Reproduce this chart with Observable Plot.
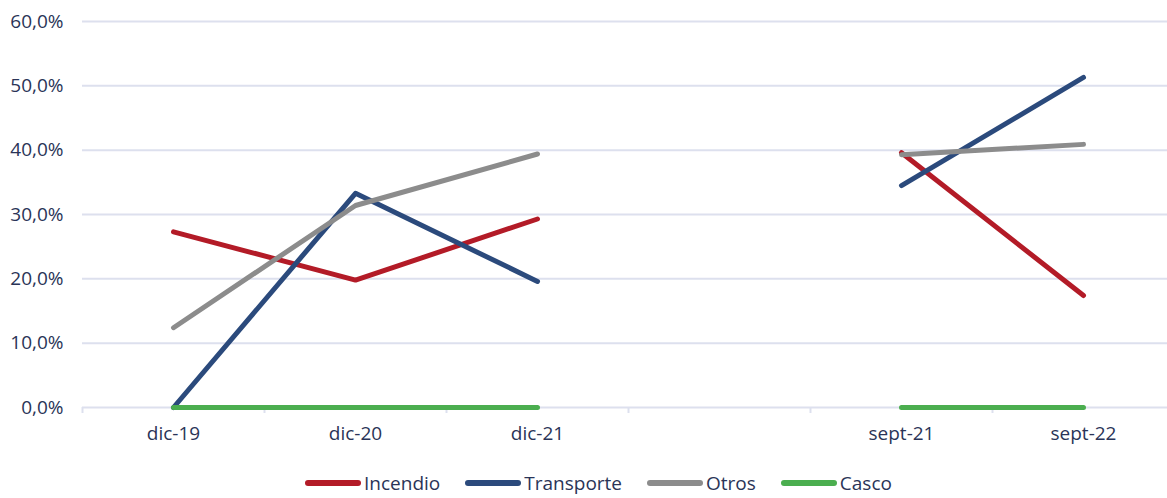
<!DOCTYPE html>
<html>
<head>
<meta charset="utf-8">
<script src="https://cdn.jsdelivr.net/npm/d3@7"></script>
<script src="https://cdn.jsdelivr.net/npm/@observablehq/plot@0.6"></script>
<style>
  html, body { margin: 0; padding: 0; background: #fff; }
  body { width: 1167px; height: 498px; overflow: hidden; font-family: "Open Sans", sans-serif; }
  #chart svg { display: block; }
  #legend { display: flex; justify-content: center; align-items: center; gap: 25px; height: 30px; margin-top: 18px; font-size: 19px; color: #2A3457; padding-left: 30px; box-sizing: border-box; }
  .item { display: flex; align-items: center; }
  .sw { width: 56px; height: 6px; border-radius: 3px; margin-right: 3px; }
</style>
</head>
<body>
<div id="chart"></div>
<div id="legend"></div>
<script>
const categories = ["dic-19", "dic-20", "dic-21", "", "sept-21", "sept-22"];
const seriesNames = ["Incendio", "Transporte", "Otros", "Casco"];
const incendio   = [27.3, 19.8, 29.3, null, 39.6, 17.4];
const transporte = [0.0, 33.3, 19.6, null, 34.5, 51.3];
const otros      = [12.4, 31.4, 39.4, null, 39.3, 40.9];
const casco      = [0.0, 0.0, 0.0, null, 0.0, 0.0];
const colors = ["#B31B27", "#2B4A7C", "#8C8C8C", "#4BAE4F"];
const yTicks = [0, 10, 20, 30, 40, 50, 60];

const seriesValues = [incendio, transporte, otros, casco];
const rows = [];
seriesNames.forEach((name, s) => {
  seriesValues[s].forEach((v, i) => rows.push({series: name, i, value: v}));
});
const idx = categories.map((c, i) => i);
const bounds = categories.map((c, i) => i - 0.5);

const chart = Plot.plot({
  width: 1167,
  height: 450,
  marginTop: 21,
  marginBottom: 43,
  marginLeft: 82,
  marginRight: 0,
  style: {fontFamily: "'Open Sans', sans-serif", fontSize: "19px", color: "#2A3457"},
  x: {domain: [-0.5, categories.length - 0.5], range: [82, 1174], label: null},
  y: {domain: [0, 60], label: null},
  color: {domain: seriesNames, range: colors},
  marks: [
    Plot.ruleY(yTicks, {stroke: "#DDE0EE", strokeWidth: 2}),
    Plot.axisY({ticks: yTicks, tickSize: 0, tickPadding: 19, label: null, tickFormat: d => d.toFixed(1).replace(".", ",") + "%", fill: "#2A3457", fontSize: 19}),
    Plot.axisX({ticks: bounds, tickSize: 6, label: null, tickFormat: () => "", stroke: "#DDE0EE", strokeWidth: 2}),
    Plot.axisX({ticks: idx, tickSize: 0, tickPadding: 19, label: null, tickFormat: i => categories[i], fill: "#2A3457", fontSize: 19}),
    Plot.line(rows, {x: "i", y: "value", z: "series", stroke: "series", strokeWidth: 5, strokeLinecap: "round", strokeLinejoin: "round"})
  ]
});
document.getElementById("chart").appendChild(chart);

const legend = document.getElementById("legend");
seriesNames.forEach((name, s) => {
  const it = document.createElement("div");
  it.className = "item";
  const sw = document.createElement("span");
  sw.className = "sw";
  sw.style.background = colors[s];
  const t = document.createElement("span");
  t.textContent = name;
  it.appendChild(sw); it.appendChild(t);
  legend.appendChild(it);
});
</script>
</body>
</html>
